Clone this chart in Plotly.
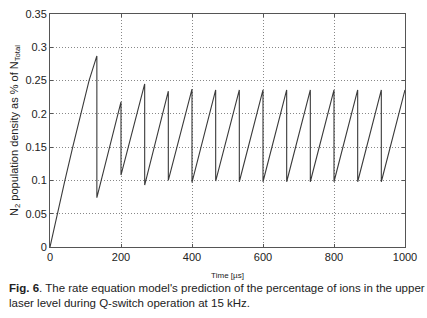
import plotly.graph_objects as go

# Time (µs) and N2 population (% of N_total)
# initial pump-up
rise_t = [0, 20, 42, 64, 87, 110, 132]
rise_v = [0, 0.05, 0.10, 0.15, 0.20, 0.25, 0.287]
# Q-switch pulse times, level right after each pulse, level just before next pulse
pulse_t = [132, 200, 266.7, 333.3, 400, 466.7, 533.3, 600, 666.7, 733.3, 800, 866.7, 933.3]
trough_v = [0.074, 0.108, 0.093, 0.100, 0.097, 0.099, 0.098, 0.098, 0.098, 0.098, 0.098, 0.098, 0.098]
next_t = [200, 266.7, 333.3, 400, 466.7, 533.3, 600, 666.7, 733.3, 800, 866.7, 933.3, 1000]
peak_v = [0.218, 0.245, 0.234, 0.237, 0.236, 0.236, 0.236, 0.236, 0.236, 0.236, 0.236, 0.236, 0.236]

x_ticks = [0, 200, 400, 600, 800, 1000]
y_ticks = [0, 0.05, 0.1, 0.15, 0.2, 0.25, 0.3, 0.35]
y_tick_labels = ["0", "0.05", "0.1", "0.15", "0.2", "0.25", "0.3", "0.35"]

time_us = list(rise_t)
n2_pct = list(rise_v)
for t0, v0, t1, v1 in zip(pulse_t, trough_v, next_t, peak_v):
    time_us += [t0, t1]
    n2_pct += [v0, v1]

FONT = "Liberation Sans, Arial, sans-serif"

fig = go.Figure()
fig.add_trace(go.Scatter(x=time_us, y=n2_pct, mode="lines",
                         line=dict(color="#3a3a3a", width=1.1),
                         showlegend=False, hoverinfo="skip"))

axis_common = dict(showline=True, linecolor="#555", linewidth=1, mirror="ticks",
                   ticks="inside", ticklen=3, tickcolor="#555",
                   showgrid=True, gridcolor="#888", griddash="1px,2px", gridwidth=1,
                   zeroline=False, tickfont=dict(family=FONT, size=11, color="#222"))

fig.update_xaxes(range=[0, 1000], tickvals=x_ticks, **axis_common,
                 title=dict(text="Time [µs]", font=dict(family=FONT, size=8, color="#222"),
                            standoff=10))
fig.update_yaxes(range=[0, 0.35], tickvals=y_ticks, ticktext=y_tick_labels, **axis_common,
                 title=dict(text="N<sub>2</sub> population density as % of N<sub>Total</sub>",
                            font=dict(family=FONT, size=11, color="#222"), standoff=4))

fig.add_annotation(xref="paper", yref="paper", x=-43/355, y=-34/239, xanchor="left", yanchor="top",
                   align="left", showarrow=False,
                   text="<b>Fig. 6</b>. The rate equation model's prediction of the percentage of ions in the upper<br>laser level during Q-switch operation at 15 kHz.",
                   font=dict(family=FONT, size=11.5, color="#222"))

fig.update_layout(width=427, height=318, margin=dict(l=50, r=22, t=8, b=71),
                  paper_bgcolor="white", plot_bgcolor="white")
fig.write_html("out.html", config={"displayModeBar": False},
               post_script="document.body.style.margin='0';")
